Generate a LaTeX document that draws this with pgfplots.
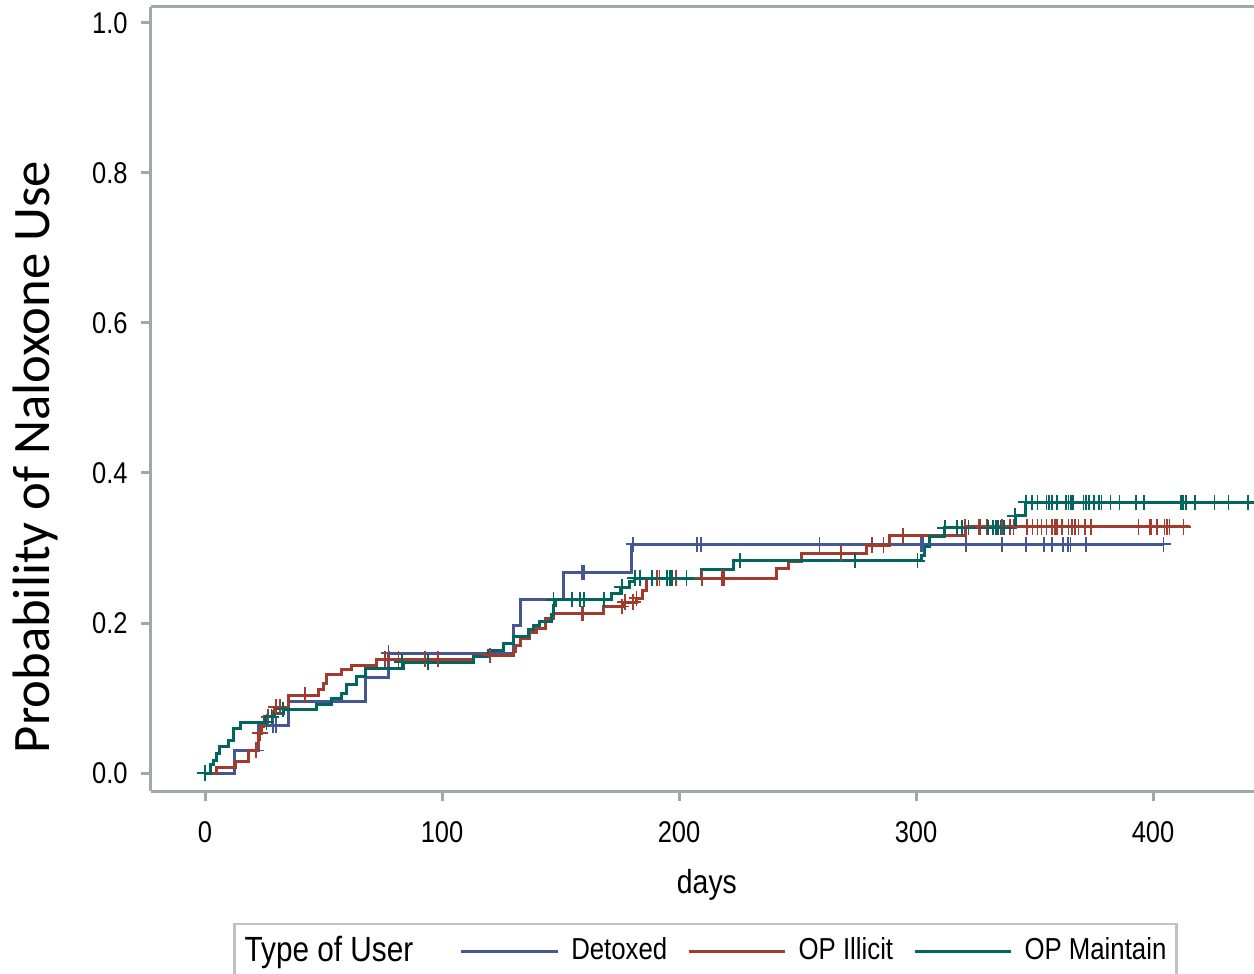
\documentclass[border=0pt]{standalone}
\usepackage{pgfplots}
\pgfplotsset{compat=1.18}
\usepackage{fontspec}
\setmainfont{Liberation Sans}[FakeStretch=0.85]
\newfontfamily\cbr{Carlito}
\definecolor{cBlue}{HTML}{445694}
\definecolor{cRed}{HTML}{A23A2E}
\definecolor{cGreen}{HTML}{01665E}
\definecolor{axgray}{HTML}{A3A7AA}
\begin{document}
\begin{tikzpicture}
\useasboundingbox (-45.3pt,-54.6pt) rectangle (330.9pt,237.3pt);
\begin{axis}[
  at={(0pt,0pt)}, anchor=south west,
  width=330.9pt, height=235.2pt, scale only axis,
  xmin=-22.8, xmax=442.6, ymin=-0.024, ymax=1.0213,
  axis x line*=box, axis y line*=left,
  xtick pos=lower, ytick pos=left,
  axis line style={draw=axgray, line width=0.9pt},
  every tick/.style={draw=axgray, line width=0.9pt},
  tick align=outside, major tick length=3pt,
  xtick={0,100,200,300,400},
  ytick={0,0.2,0.4,0.6,0.8,1.0},
  /pgf/number format/assume math mode=true,
  yticklabel style={/pgf/number format/fixed, /pgf/number format/fixed zerofill, /pgf/number format/precision=1, xshift=-0.5pt},
  ticklabel style={font=\fontsize{9}{11}\selectfont},
  xticklabel style={yshift=-2.5pt},
  xlabel={days},
  xlabel style={font=\fontsize{10}{12}\selectfont, at={(axis description cs:0.504,-0.12)}, anchor=center},
  ylabel={Probability of Naloxone Use},
  ylabel style={font=\cbr\fontsize{15.8}{18}\selectfont, at={(axis description cs:-0.105,0.426)}, anchor=center},
  clip=true,
  legend columns=-1,
  legend style={at={(axis description cs:0.5027,-0.2041)}, anchor=center,
    draw=axgray!70, line width=0.7pt, font=\fontsize{9.1}{11}\selectfont,
    inner xsep=1pt, inner ysep=1.5pt,
    /tikz/every even column/.append style={column sep=4pt}},
  legend image code/.code={\draw[#1, line width=0.9pt] (0pt,0pt) -- (29pt,0pt); \path (30.5pt,0pt);},
]
\addlegendimage{empty legend}
\addlegendentry{\fontsize{10.5}{12}\selectfont Type of User\kern8pt\null}
% Detoxed
\addplot[const plot, color=cBlue, line width=0.9pt] coordinates {
(0,0) (12.5,0.030) (22.4,0.063) (35.2,0.095) (67.5,0.128) (77.2,0.160)
(130.1,0.197) (132.9,0.232) (151.2,0.267) (180,0.305) (404.5,0.305)};
\addlegendentry{Detoxed}
% OP Illicit
\addplot[const plot, color=cRed, line width=0.9pt] coordinates {
(0,0) (4.9,0.007) (12.7,0.015) (18.3,0.030) (21.8,0.040) (22.5,0.053) (23.9,0.062)
(24.6,0.068) (26,0.075) (28.8,0.082) (29.5,0.088) (35.2,0.104) (47.8,0.111)
(50,0.120) (51.3,0.131) (57.7,0.138) (61.9,0.144) (72.4,0.152) (113.2,0.157)
(130.1,0.162) (131,0.170) (132.9,0.180) (137.1,0.187) (140,0.193) (143.5,0.206)
(147,0.213) (168,0.222) (176.5,0.228) (182,0.233) (184.5,0.243) (186.4,0.260)
(241.2,0.273) (246,0.282) (251.8,0.293) (279.2,0.304) (289,0.316) (320.7,0.328)
(415.6,0.328)};
\addlegendentry{OP Illicit}
% OP Maintain
\addplot[const plot, color=cGreen, line width=0.9pt] coordinates {
(0,0) (2.1,0.011) (3.5,0.017) (4.9,0.026) (6.3,0.035) (9.8,0.044) (11.9,0.060)
(14.8,0.068) (25.3,0.075) (29.5,0.080) (33,0.085) (47.1,0.091) (53.5,0.100)
(57.7,0.106) (59.8,0.118) (64,0.129) (67.5,0.140) (83.7,0.148) (113.2,0.155)
(119.5,0.164) (125.9,0.173) (130.1,0.182) (136.4,0.191) (138.5,0.197) (141,0.202)
(146.3,0.212) (147,0.224) (147.7,0.231) (171.6,0.240) (175.1,0.248) (179.3,0.255)
(181.4,0.260) (209.6,0.272) (223,0.283) (302.4,0.290) (303.5,0.302) (305.5,0.315)
(312.2,0.327) (341.8,0.343) (346,0.361) (442.6,0.361)};
\addlegendentry{OP Maintain}
% censor marks
\addplot[forget plot, only marks, mark=+, mark size=2.3pt, color=cBlue, line width=0.5pt] coordinates {
(28.8,0.063) (30,0.063) (77.4,0.160) (159,0.267) (160,0.267) (180.7,0.305)
(207.5,0.305) (209.3,0.305) (259.2,0.305) (302,0.305) (302.8,0.305) (321,0.305)
(336.2,0.305) (346.3,0.305) (354,0.305) (357.3,0.305) (361.9,0.305) (364,0.305)
(365.1,0.305) (371.7,0.305) (404.4,0.305)};
\addplot[forget plot, only marks, mark=+, mark size=2.3pt, color=cRed, line width=0.5pt] coordinates {
(21.5,0.030) (23.2,0.053) (26.7,0.075) (30,0.088) (31.6,0.088) (42.2,0.104)
(76,0.152) (77.8,0.152) (81.6,0.152) (92.8,0.152) (98.4,0.152) (120.3,0.157)
(159,0.213) (159.6,0.213) (175.8,0.222) (177.2,0.228) (180.7,0.228) (182.1,0.233)
(190.6,0.260) (191.7,0.260) (198.7,0.260) (209.6,0.260) (218,0.260) (219,0.260)
(268.2,0.293) (281.3,0.304) (286.2,0.304) (294.4,0.316) (320.7,0.328)
(326.3,0.328) (327.0,0.328) (329.8,0.328) (336.2,0.328) (339.7,0.328) (341.1,0.328)
(346.7,0.328) (349.2,0.328) (351.3,0.328) (353.0,0.328) (355.1,0.328) (357.3,0.328)
(358.6,0.328) (359.4,0.328) (361.5,0.328) (364.3,0.328) (365.7,0.328) (367.1,0.328)
(368.5,0.328) (371.3,0.328) (373.7,0.328) (393.8,0.328) (398.7,0.328) (399.4,0.328)
(401.8,0.328) (404.8,0.328) (405.8,0.328) (406.9,0.328) (412.8,0.328)};
\addplot[forget plot, only marks, mark=+, mark size=2.3pt, color=cGreen, line width=0.5pt] coordinates {
(0,0) (26,0.068) (28.1,0.075) (33,0.085) (83,0.148) (94.2,0.148)
(147,0.231) (154.7,0.231) (158.2,0.231) (159.9,0.231) (168.4,0.231) (175.8,0.248)
(181.4,0.260) (183.5,0.260) (188.5,0.260) (194.8,0.260) (196.2,0.260) (196.9,0.260)
(203.2,0.260) (225.7,0.283) (274.3,0.283) (300.6,0.283) (312.2,0.327) (317.2,0.327)
(319.3,0.327) (322.1,0.327) (330.4,0.327) (332.6,0.327) (333.6,0.327) (334.7,0.327)
(335.7,0.327) (337.1,0.327) (341.8,0.343)
(346.4,0.361) (348.8,0.361) (351.2,0.361) (355.1,0.361) (356.1,0.361) (357.3,0.361)
(359.4,0.361) (363.3,0.361) (364.3,0.361) (365.3,0.361) (366.1,0.361) (370.6,0.361)
(371.7,0.361) (373.0,0.361) (375.1,0.361) (377.2,0.361) (378.3,0.361) (382.1,0.361)
(385.8,0.361) (392.8,0.361) (396.2,0.361) (411.8,0.361) (412.5,0.361) (413.8,0.361)
(417.7,0.361) (425.9,0.361) (431.8,0.361) (440,0.361)};
\end{axis}
\end{tikzpicture}
\end{document}
